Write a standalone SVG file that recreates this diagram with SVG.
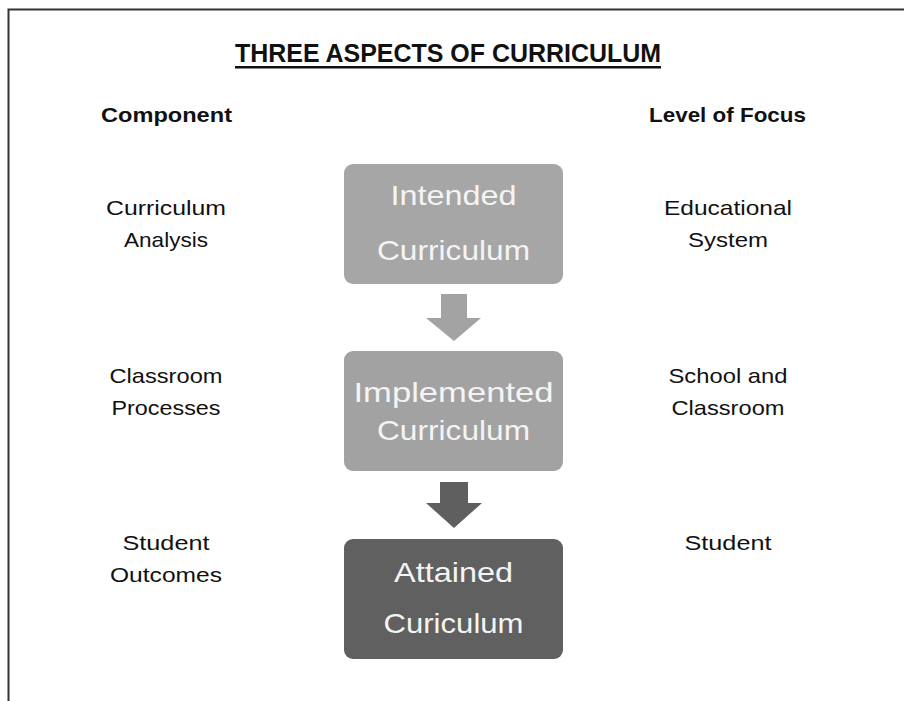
<svg xmlns="http://www.w3.org/2000/svg" width="904" height="701" viewBox="0 0 904 701">
<style>
.t{font-family:"Liberation Sans",Arial,sans-serif;fill:#111;}
.side{font-size:21px;text-anchor:middle;}
.hd{font-size:21px;font-weight:bold;}
.bx{font-family:"Liberation Sans",Arial,sans-serif;font-size:28px;fill:#f4f4f4;text-anchor:middle;}
</style>
<rect width="904" height="701" fill="#fff"/>
<path d="M8.5 701 V9.5 H904" fill="none" stroke="#333" stroke-width="2"/>
<g id="title">
<text class="t" x="235" y="62" font-size="26" font-weight="bold" textLength="426" lengthAdjust="spacingAndGlyphs">THREE ASPECTS OF CURRICULUM</text>
<rect x="235" y="66" width="426" height="2.5" fill="#111"/>
</g>
<g id="hdr-component"><text class="t hd" x="101" y="122" textLength="131" lengthAdjust="spacingAndGlyphs">Component</text></g>
<g id="hdr-focus"><text class="t hd" x="649" y="122" textLength="157" lengthAdjust="spacingAndGlyphs">Level of Focus</text></g>
<g id="comp-1">
<text class="t side" x="166" y="215" textLength="120" lengthAdjust="spacingAndGlyphs">Curriculum</text>
<text class="t side" x="166" y="247" textLength="84" lengthAdjust="spacingAndGlyphs">Analysis</text>
</g>
<g id="comp-2">
<text class="t side" x="166" y="383" textLength="113" lengthAdjust="spacingAndGlyphs">Classroom</text>
<text class="t side" x="166" y="415" textLength="109" lengthAdjust="spacingAndGlyphs">Processes</text>
</g>
<g id="comp-3">
<text class="t side" x="166" y="550" textLength="87" lengthAdjust="spacingAndGlyphs">Student</text>
<text class="t side" x="166" y="582" textLength="112" lengthAdjust="spacingAndGlyphs">Outcomes</text>
</g>
<g id="focus-1">
<text class="t side" x="728" y="215" textLength="128" lengthAdjust="spacingAndGlyphs">Educational</text>
<text class="t side" x="728" y="247" textLength="80" lengthAdjust="spacingAndGlyphs">System</text>
</g>
<g id="focus-2">
<text class="t side" x="728" y="383" textLength="119" lengthAdjust="spacingAndGlyphs">School and</text>
<text class="t side" x="728" y="415" textLength="113" lengthAdjust="spacingAndGlyphs">Classroom</text>
</g>
<g id="focus-3">
<text class="t side" x="728" y="550" textLength="87" lengthAdjust="spacingAndGlyphs">Student</text>
</g>
<g id="intended">
<rect x="344" y="164" width="219" height="120" rx="9" fill="#a6a6a6"/>
<text class="bx" x="453.5" y="205" textLength="126" lengthAdjust="spacingAndGlyphs">Intended</text>
<text class="bx" x="453.5" y="260" textLength="153" lengthAdjust="spacingAndGlyphs">Curriculum</text>
</g>
<g id="implemented">
<rect x="344" y="351" width="219" height="120" rx="9" fill="#a2a2a2"/>
<text class="bx" x="453.5" y="402" textLength="200" lengthAdjust="spacingAndGlyphs">Implemented</text>
<text class="bx" x="453.5" y="440" textLength="153" lengthAdjust="spacingAndGlyphs">Curriculum</text>
</g>
<g id="attained">
<rect x="344" y="539" width="219" height="120" rx="9" fill="#606060"/>
<text class="bx" x="453.5" y="582" textLength="119" lengthAdjust="spacingAndGlyphs">Attained</text>
<text class="bx" x="453.5" y="633" textLength="140" lengthAdjust="spacingAndGlyphs">Curiculum</text>
</g>
<g id="connectors">
<polygon points="441,294 467,294 467,318 481,318 454,341 426,318 441,318" fill="#a3a3a3"/>
<polygon points="440,482 468,482 468,503 482,503 454,528 426,503 440,503" fill="#5f5f5f"/>
</g>
</svg>
